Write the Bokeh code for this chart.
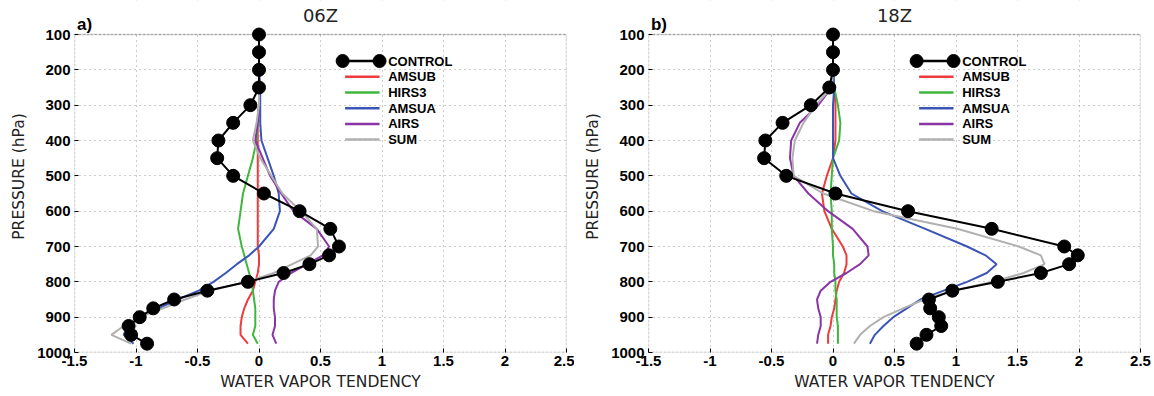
from bokeh.plotting import figure
from bokeh.layouts import row
from bokeh.models import Range1d, FixedTicker, Label, BoxAnnotation
from bokeh.embed import file_html
from bokeh.resources import INLINE
from bokeh.core.properties import value

# ---------------- data ----------------
levels = [100, 150, 200, 250, 300, 350, 400, 450, 500, 550, 600, 650,
          700, 725, 750, 775, 800, 825, 850, 875, 900, 925, 950, 975]

# 06Z panel
control_06 = [0, 0, 0, 0, -0.07, -0.21, -0.33, -0.34, -0.21, 0.04, 0.33, 0.58,
              0.65, 0.57, 0.41, 0.20, -0.09, -0.42, -0.69, -0.86, -0.97, -1.06, -1.04, -0.91]
amsub_06 = [0, 0, 0, 0, 0, -0.01, -0.01, -0.01, -0.01, -0.01, -0.01, -0.01,
            -0.01, 0, 0, -0.01, -0.03, -0.05, -0.09, -0.12, -0.14, -0.15, -0.15, -0.09]
hirs3_06 = [0, 0, 0, 0, 0, -0.01, -0.02, -0.05, -0.09, -0.13, -0.15, -0.17,
            -0.14, -0.12, -0.10, -0.08, -0.06, -0.05, -0.04, -0.03, -0.03, -0.03, -0.05, -0.01]
amsua_06 = [0, 0, 0, 0.01, 0.01, 0.01, 0.02, 0.07, 0.12, 0.16, 0.17, 0.12,
            0.0, -0.08, -0.18, -0.27, -0.37, -0.49, -0.66, -0.82, -0.97, -1.07, -1.10, -1.02]
airs_06 = [0, 0, 0, 0, 0, -0.01, -0.03, 0.03, 0.09, 0.18, 0.28, 0.47,
           0.57, 0.52, 0.39, 0.26, 0.16, 0.13, 0.12, 0.12, 0.13, 0.13, 0.11, 0.14]
sum_06 = [0, 0, 0, 0, 0, -0.02, -0.05, 0.01, 0.10, 0.19, 0.34, 0.47,
          0.48, 0.42, 0.27, 0.12, -0.10, -0.40, -0.60, -0.78, -0.97, -1.10, -1.20, -1.04]

# 18Z panel
control_18 = [0, 0, 0, -0.03, -0.18, -0.41, -0.55, -0.56, -0.38, 0.02, 0.61, 1.29,
              1.88, 1.99, 1.92, 1.69, 1.34, 0.97, 0.78, 0.79, 0.86, 0.88, 0.76, 0.68]
amsub_18 = [0, 0, 0, 0.01, 0.02, 0.02, 0.02, 0.0, -0.05, -0.09, -0.07, -0.01,
            0.08, 0.11, 0.11, 0.09, 0.05, 0.03, 0.02, 0.01, -0.01, -0.02, -0.04, -0.04]
hirs3_18 = [0, 0, 0, 0.01, 0.04, 0.06, 0.05, 0.0, -0.01, -0.02, -0.01, -0.01,
            0.0, 0.0, 0.01, 0.01, 0.02, 0.02, 0.03, 0.03, 0.03, 0.04, 0.04, 0.04]
amsua_18 = [0, 0, 0, 0.01, 0.0, 0.0, 0.0, 0.0, 0.06, 0.15, 0.40, 0.75,
            1.09, 1.24, 1.33, 1.25, 1.09, 0.90, 0.71, 0.60, 0.49, 0.41, 0.34, 0.30]
airs_18 = [0, 0, 0, -0.01, -0.12, -0.27, -0.34, -0.35, -0.32, -0.20, -0.04, 0.16,
           0.28, 0.29, 0.22, 0.11, -0.02, -0.10, -0.13, -0.12, -0.10, -0.10, -0.12, -0.13]
sum_18 = [0, 0, 0, -0.01, -0.14, -0.24, -0.31, -0.33, -0.32, -0.08, 0.33, 1.01,
          1.51, 1.69, 1.72, 1.55, 1.30, 0.98, 0.74, 0.57, 0.41, 0.30, 0.22, 0.17]

series_names = ["AMSUB", "HIRS3", "AMSUA", "AIRS", "SUM"]
series_colors = ["#ee3b3b", "#3fb63f", "#3a55b5", "#8a35a5", "#b0b0b0"]

x_ticks = [-1.5, -1, -0.5, 0, 0.5, 1, 1.5, 2, 2.5]
x_tick_labels = ["-1.5", "-1", "-0.5", "0", "0.5", "1", "1.5", "2", "2.5"]
y_ticks = [100, 200, 300, 400, 500, 600, 700, 800, 900, 1000]
y_tick_labels = ["100", "200", "300", "400", "500", "600", "700", "800", "900", "1000"]

panels = [
    ("a)", "06Z", control_06, [amsub_06, hirs3_06, amsua_06, airs_06, sum_06]),
    ("b)", "18Z", control_18, [amsub_18, hirs3_18, amsua_18, airs_18, sum_18]),
]

X_MIN, X_MAX = -1.5, 2.5
P_TOP, P_BOT = 100, 1000

# ---------------- layout constants (pixels) ----------------
FIG_H = 395
BORDER_BOTTOM = 43
PAD_TOP_PX = 34          # space above the 100 hPa line, inside the canvas
FRAME_H = FIG_H - BORDER_BOTTOM
HPA_PER_PX = (P_BOT - P_TOP) / (FRAME_H - PAD_TOP_PX)
Y_RANGE_TOP = P_TOP - PAD_TOP_PX * HPA_PER_PX


def px_above(px):
    """pressure coordinate that lies px pixels above the 100 hPa line"""
    return P_TOP - px * HPA_PER_PX


# legend placement
LEG_X0, LEG_X1, LEG_TX = 0.68, 0.98, 1.05
LEG_Y0, LEG_DY = 175, 44.5

TICK_FONT = "Liberation Sans"
THIN_FONT = "DejaVu Sans"


def make_panel(tag, title, control, series, width, border_left, border_right):
    p = figure(width=width, height=FIG_H, output_backend="svg", toolbar_location=None,
               x_range=Range1d(X_MIN, X_MAX), y_range=Range1d(P_BOT, Y_RANGE_TOP),
               min_border_left=border_left, min_border_right=border_right,
               min_border_top=0, min_border_bottom=BORDER_BOTTOM)
    p.background_fill_color = "white"
    p.border_fill_color = "white"
    p.outline_line_color = None

    p.xaxis.ticker = FixedTicker(ticks=x_ticks)
    p.yaxis.ticker = FixedTicker(ticks=y_ticks)
    p.yaxis.bounds = (P_TOP, P_BOT)
    p.xaxis.major_label_overrides = dict(zip(x_ticks, x_tick_labels))
    p.yaxis.major_label_overrides = dict(zip(y_ticks, y_tick_labels))
    for ax in (p.xaxis, p.yaxis):
        ax.axis_line_color = None
        ax.major_tick_in = 4
        ax.major_tick_out = 0
        ax.major_tick_line_color = "black"
        ax.minor_tick_line_color = None
        ax.major_label_text_font = TICK_FONT
        ax.major_label_text_font_style = "bold"
        ax.major_label_text_font_size = "15px"
        ax.major_label_text_color = "black"
        ax.axis_label_text_font = THIN_FONT
        ax.axis_label_text_font_style = "normal"
        ax.axis_label_text_font_size = "15.5px"
        ax.axis_label_text_color = "#222222"
    p.xaxis.axis_label = "WATER VAPOR TENDENCY"
    p.yaxis.axis_label = "PRESSURE (hPa)"
    p.xaxis.major_label_standoff = 3
    p.xaxis.axis_label_standoff = 4
    p.yaxis.major_label_standoff = 4
    p.yaxis.axis_label_standoff = 6

    p.grid.grid_line_color = "#9a9a9a"
    p.grid.grid_line_dash = "1 4"
    p.grid.grid_line_width = 1

    # hide the grid above the 100 hPa line (title strip)
    p.add_layout(BoxAnnotation(left=X_MIN, right=X_MAX, top=Y_RANGE_TOP, bottom=P_TOP,
                               fill_color="white", fill_alpha=1.0, line_color=None,
                               level="underlay"))
    # dashed plot box
    p.add_layout(BoxAnnotation(left=X_MIN, right=X_MAX, top=P_TOP, bottom=P_BOT,
                               fill_alpha=0, line_color="black", line_width=1.4,
                               line_dash="3 1"))

    # data
    for vals, color in zip(series, series_colors):
        p.line(vals, levels, line_color=color, line_width=2)
    p.line(control, levels, line_color="black", line_width=2)
    p.scatter(control, levels, size=13, fill_color="black", line_color="black")

    # legend
    ly = LEG_Y0
    p.line([LEG_X0, LEG_X1], [ly, ly], line_color="black", line_width=2.5)
    p.scatter([LEG_X0, LEG_X1], [ly, ly], size=13, fill_color="black", line_color="black")
    p.text([LEG_TX], [ly], text=["CONTROL"], text_font=value(TICK_FONT), text_font_style="bold",
           text_font_size="13px", text_baseline="middle", text_color="black")
    for i, (name, color) in enumerate(zip(series_names, series_colors)):
        ly = LEG_Y0 + LEG_DY * (i + 1)
        p.line([LEG_X0 + 0.02, LEG_X1], [ly, ly], line_color=color, line_width=2.5)
        p.text([LEG_TX], [ly], text=[name], text_font=value(TICK_FONT), text_font_style="bold",
               text_font_size="13px", text_baseline="middle", text_color="black")

    # panel tag and title in the strip above the box
    p.add_layout(Label(x=X_MIN + 0.02, y=px_above(1), text=tag, text_font=TICK_FONT,
                       text_font_style="bold", text_font_size="17px",
                       text_baseline="bottom", text_color="black"))
    p.add_layout(Label(x=(X_MIN + X_MAX) / 2, y=px_above(9), text=title, text_font=THIN_FONT,
                       text_font_style="normal", text_font_size="18px", text_align="center",
                       text_baseline="bottom", text_color="#222222"))
    return p


p1 = make_panel(*panels[0], width=574, border_left=74, border_right=8)
p2 = make_panel(*panels[1], width=578, border_left=74, border_right=12)
layout = row(p1, p2, spacing=0)

open("out.html", "w").write(file_html(layout, INLINE))
